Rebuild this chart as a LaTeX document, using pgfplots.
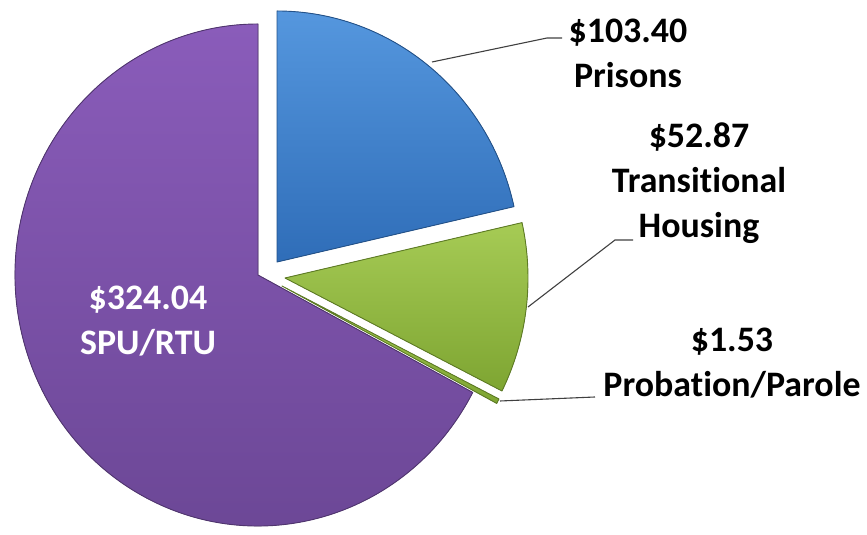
\documentclass[border=0pt]{standalone}
\usepackage{pgfplots}
\usepackage{pgfplotstable}
\pgfplotsset{compat=1.18}
\usepackage{fontspec}
\setmainfont{Carlito}[Ligatures=NoCommon]

\definecolor{bluetop}{HTML}{5597DE}
\definecolor{bluebot}{HTML}{2F6DB8}
\definecolor{greentop}{HTML}{A6CB55}
\definecolor{greenbot}{HTML}{7EA532}
\definecolor{purptop}{HTML}{8A5CBA}
\definecolor{purpbot}{HTML}{6A4694}

% value, apex of each (exploded) slice in picture units
\pgfplotstableread{
label value cx cy
Prisons 103.40 277 273
Transitional 52.87 285 257
Probation 1.53 282 249
SPU 324.04 258 260
}\piedata

\pgfplotstablegetelem{0}{value}\of\piedata \let\vA\pgfplotsretval
\pgfplotstablegetelem{1}{value}\of\piedata \let\vB\pgfplotsretval
\pgfplotstablegetelem{2}{value}\of\piedata \let\vC\pgfplotsretval
\pgfplotstablegetelem{3}{value}\of\piedata \let\vD\pgfplotsretval
\pgfplotstablegetelem{0}{cx}\of\piedata \let\xA\pgfplotsretval
\pgfplotstablegetelem{0}{cy}\of\piedata \let\yA\pgfplotsretval
\pgfplotstablegetelem{1}{cx}\of\piedata \let\xB\pgfplotsretval
\pgfplotstablegetelem{1}{cy}\of\piedata \let\yB\pgfplotsretval
\pgfplotstablegetelem{2}{cx}\of\piedata \let\xC\pgfplotsretval
\pgfplotstablegetelem{2}{cy}\of\piedata \let\yC\pgfplotsretval
\pgfplotstablegetelem{3}{cx}\of\piedata \let\xD\pgfplotsretval
\pgfplotstablegetelem{3}{cy}\of\piedata \let\yD\pgfplotsretval
\pgfmathsetmacro\total{\vA+\vB+\vC+\vD}
\pgfmathsetmacro\aA{90}
\pgfmathsetmacro\aB{\aA-360*(\vA/\total)}
\pgfmathsetmacro\aC{\aB-360*(\vB/\total)}
\pgfmathsetmacro\aD{\aC-360*(\vC/\total)}
\pgfmathsetmacro\aE{\aD-360*(\vD/\total)}
\def\rx{243}\def\ry{251}
\newcommand\slice[6]{%
  \fill[top color=#5, bottom color=#6, draw=#6!75!black, line width=0.9pt, line join=round]
    (axis cs:#1,#2) -- ++(#3:\rx bp and \ry bp)
    arc[start angle=#3, end angle=#4, x radius=\rx bp, y radius=\ry bp] -- cycle;}

\begin{document}
\begin{tikzpicture}
\begin{axis}[
    x=1bp, y=1bp,
    xmin=0, xmax=867, ymin=0, ymax=535,
    hide axis, clip=false,
]
\addplot[draw=none] coordinates {(0,0) (867,535)};
\slice{\xD}{\yD}{\aD}{\aE}{purptop}{purpbot}
\slice{\xA}{\yA}{\aA}{\aB}{bluetop}{bluebot}
\slice{\xB}{\yB}{\aB}{\aC}{greentop}{greenbot}
\slice{\xC}{\yC}{\aC}{\aD}{greentop}{greenbot}

\draw[black!75, line width=1.1pt] (axis cs:432,473) -- (axis cs:547,497) -- (axis cs:562,497);
\draw[black!75, line width=1.1pt] (axis cs:528,228) -- (axis cs:615,295) -- (axis cs:633,295);
\draw[black!75, line width=1.1pt] (axis cs:500,134) -- (axis cs:595,138);

\begin{scope}[every node/.style={font=\fontsize{36}{45}\selectfont\bfseries, align=center, inner sep=0pt}]
\node at (axis cs:628,482) {\$103.40\\Prisons};
\node at (axis cs:699,352) {\$52.87\\Transitional\\Housing};
\node at (axis cs:732,172) {\$1.53\\Probation/Parole};
\node[text=white] at (axis cs:148,214) {\$324.04\\SPU/RTU};
\end{scope}
\end{axis}
\pgfresetboundingbox
\path (current axis.south west) rectangle (current axis.north east);
\end{tikzpicture}
\end{document}
